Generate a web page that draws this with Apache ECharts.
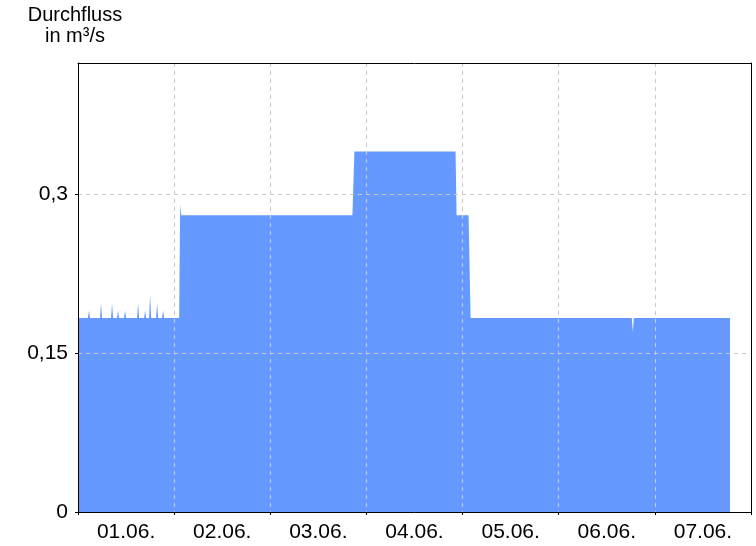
<!DOCTYPE html>
<html>
<head>
<meta charset="utf-8">
<script src="https://cdn.jsdelivr.net/npm/echarts@6/dist/echarts.min.js"></script>
<style>html,body{margin:0;padding:0;background:#fff}#c{width:756px;height:546px}</style>
</head>
<body>
<div id="c"></div>
<script>
// Day labels (x axis categories)
var dayLabels = ['01.06.', '02.06.', '03.06.', '04.06.', '05.06.', '06.06.', '07.06.'];
// Y tick values
var yTicks = [0, 0.15, 0.3];
// Measurement times (change points of the discharge record)
var times = [
  '2024-06-01 00:00',
  '2024-06-01 02:30', '2024-06-01 02:45', '2024-06-01 03:00',
  '2024-06-01 05:30', '2024-06-01 05:45', '2024-06-01 06:00',
  '2024-06-01 08:15', '2024-06-01 08:30', '2024-06-01 08:45',
  '2024-06-01 09:45', '2024-06-01 10:00', '2024-06-01 10:15',
  '2024-06-01 11:30', '2024-06-01 11:45', '2024-06-01 12:00',
  '2024-06-01 14:45', '2024-06-01 15:00', '2024-06-01 15:15',
  '2024-06-01 16:30', '2024-06-01 16:45', '2024-06-01 17:00',
  '2024-06-01 17:45', '2024-06-01 18:00', '2024-06-01 18:15',
  '2024-06-01 19:30', '2024-06-01 19:45', '2024-06-01 20:00',
  '2024-06-01 21:00', '2024-06-01 21:15', '2024-06-01 21:30',
  '2024-06-02 01:15', '2024-06-02 01:30', '2024-06-02 01:45',
  '2024-06-03 20:30', '2024-06-03 21:00',
  '2024-06-04 22:15', '2024-06-04 22:30',
  '2024-06-05 01:30', '2024-06-05 02:00',
  '2024-06-06 18:15', '2024-06-06 18:30', '2024-06-06 18:45',
  '2024-06-07 18:45'
];
// Discharge in m³/s
var flow = [
  0.183,
  0.183, 0.190, 0.183,
  0.183, 0.197, 0.183,
  0.183, 0.197, 0.183,
  0.183, 0.190, 0.183,
  0.183, 0.190, 0.183,
  0.183, 0.197, 0.183,
  0.183, 0.190, 0.183,
  0.183, 0.205, 0.183,
  0.183, 0.197, 0.183,
  0.183, 0.190, 0.183,
  0.183, 0.290, 0.280,
  0.280, 0.340,
  0.340, 0.280,
  0.280, 0.183,
  0.183, 0.170, 0.183,
  0.183
];

var seriesData = times.map(function (t, i) { return [t, flow[i]]; });
var FONT = 'Liberation Sans, Arial, sans-serif';
function blackLine() { return {show: true, onZero: false, lineStyle: {color: '#000', width: 1}}; }

var chart = echarts.init(document.getElementById('c'), null, {renderer: 'canvas'});
chart.setOption({
  animation: false,
  backgroundColor: '#fff',
  graphic: [{
    type: 'text',
    x: 75,
    y: 5,
    style: {
      text: 'Durchfluss\nin m³/s',
      font: '20px ' + FONT,
      fill: '#000',
      align: 'center',
      verticalAlign: 'top',
      lineHeight: 21
    }
  }],
  grid: {left: 78, top: 63, right: 5, bottom: 34, show: false},
  xAxis: [{
    type: 'category',
    data: dayLabels,
    boundaryGap: true,
    position: 'bottom',
    axisLine: blackLine(),
    axisTick: {show: true, length: 3, lineStyle: {color: '#000'}},
    axisLabel: {color: '#000', fontSize: 21, fontFamily: FONT, margin: 10},
    splitLine: {show: true, lineStyle: {color: '#c8c8c8', type: [4, 4], width: 1}},
    z: 10
  }, {
    type: 'time',
    min: '2024-06-01 00:00',
    max: '2024-06-08 00:00',
    position: 'top',
    axisLine: blackLine(),
    axisTick: {show: false},
    axisLabel: {show: false},
    splitLine: {show: false},
    z: 10
  }],
  yAxis: [{
    type: 'value',
    min: 0,
    max: 0.4236,
    interval: 0.15,
    position: 'left',
    axisLine: blackLine(),
    axisTick: {show: true, length: 3, lineStyle: {color: '#000'}, customValues: yTicks},
    axisLabel: {
      color: '#000', fontSize: 21, fontFamily: FONT, margin: 10,
      padding: [4, 0, 0, 0],
      customValues: yTicks,
      formatter: function (v) { return String(v).replace('.', ','); }
    },
    splitLine: {show: true, lineStyle: {color: '#c8c8c8', type: [4, 4], width: 1}},
    z: 10
  }, {
    type: 'value',
    min: 0,
    max: 0.4236,
    position: 'right',
    axisLine: blackLine(),
    axisTick: {show: false},
    axisLabel: {show: false},
    splitLine: {show: false},
    z: 10
  }],
  series: [{
    type: 'line',
    xAxisIndex: 1,
    yAxisIndex: 0,
    data: seriesData,
    showSymbol: false,
    symbol: 'none',
    lineStyle: {width: 0, opacity: 0},
    areaStyle: {color: '#6699ff', opacity: 1},
    z: 2
  }]
});
</script>
</body>
</html>
